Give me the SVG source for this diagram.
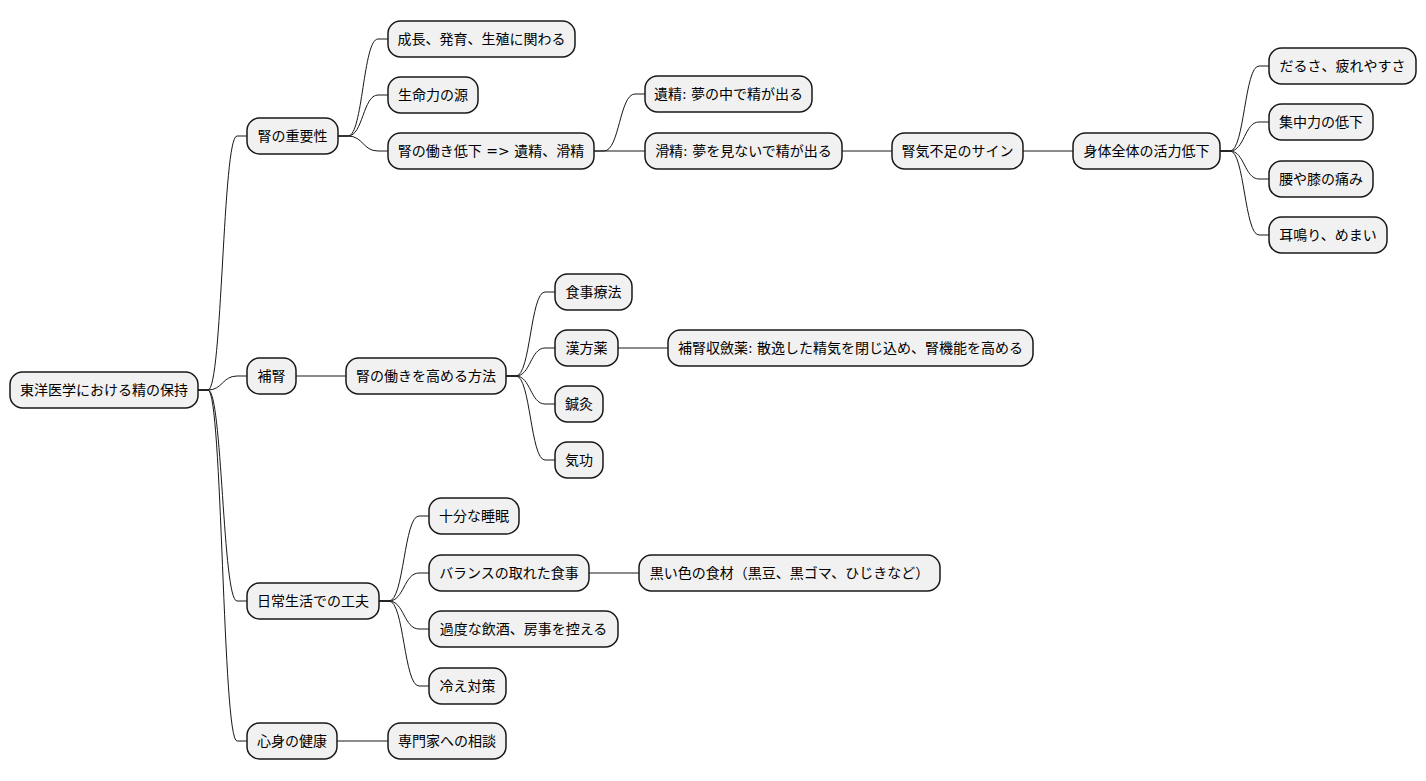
<svg xmlns="http://www.w3.org/2000/svg" width="1426" height="781" viewBox="0 0 1426 781">
<style>
.n rect{fill:#F1F1F1;stroke:#181818;stroke-width:1.5}
.n text{font-family:"DejaVu Sans","Noto Sans CJK JP",sans-serif;font-size:14px;fill:#000;text-anchor:middle}
#edges path{fill:none;stroke:#181818;stroke-width:1}
</style>
<rect width="1426" height="781" fill="#FFFFFF"/>
<g id="edges">
<path d="M198,390 L208,390 C222.5,390 222.5,136 237,136 L247,136"/>
<path d="M198,390 L208,390 C222.5,390 222.5,376 237,376 L247,376"/>
<path d="M198,390 L208,390 C222.5,390 222.5,601 237,601 L247,601"/>
<path d="M198,390 L208,390 C222.5,390 222.5,741 237,741 L247,741"/>
<path d="M338,136 L348,136 C363,136 363,39 378,39 L388,39"/>
<path d="M338,136 L348,136 C363,136 363,95 378,95 L388,95"/>
<path d="M338,136 L348,136 C363,136 363,151 378,151 L388,151"/>
<path d="M594,151 L604,151 C619.5,151 619.5,94 635,94 L645,94"/>
<path d="M594,151 L645,151"/>
<path d="M842,151 L892,151"/>
<path d="M1023,151 L1073,151"/>
<path d="M1220,151 L1230,151 C1244.5,151 1244.5,66 1259,66 L1269,66"/>
<path d="M1220,151 L1230,151 C1244.5,151 1244.5,122 1259,122 L1269,122"/>
<path d="M1220,151 L1230,151 C1244.5,151 1244.5,179 1259,179 L1269,179"/>
<path d="M1220,151 L1230,151 C1244.5,151 1244.5,235 1259,235 L1269,235"/>
<path d="M296,376 L346,376"/>
<path d="M506,376 L516,376 C530.5,376 530.5,292 545,292 L555,292"/>
<path d="M506,376 L516,376 C530.5,376 530.5,348 545,348 L555,348"/>
<path d="M506,376 L516,376 C530.5,376 530.5,404 545,404 L555,404"/>
<path d="M506,376 L516,376 C530.5,376 530.5,460 545,460 L555,460"/>
<path d="M618,348 L668,348"/>
<path d="M379,601 L389,601 C404,601 404,516 419,516 L429,516"/>
<path d="M379,601 L389,601 C404,601 404,573 419,573 L429,573"/>
<path d="M379,601 L389,601 C404,601 404,629 419,629 L429,629"/>
<path d="M379,601 L389,601 C404,601 404,686 419,686 L429,686"/>
<path d="M589,573 L639,573"/>
<path d="M337,741 L388,741"/>
</g>
<g id="root" class="n"><rect x="10" y="372" width="188" height="36" rx="12.5"/><text x="104" y="395">東洋医学における精の保持</text></g>
<g id="n1" class="n"><rect x="247" y="118" width="91" height="36" rx="12.5"/><text x="292.5" y="141">腎の重要性</text></g>
<g id="n1a" class="n"><rect x="388" y="21" width="187" height="36" rx="12.5"/><text x="481.5" y="44">成長、発育、生殖に関わる</text></g>
<g id="n1b" class="n"><rect x="388" y="77" width="90" height="36" rx="12.5"/><text x="433" y="100">生命力の源</text></g>
<g id="n1c" class="n"><rect x="388" y="133" width="206" height="36" rx="12.5"/><text x="491" y="156">腎の働き低下 =&gt; 遺精、滑精</text></g>
<g id="n1c1" class="n"><rect x="645" y="76" width="167" height="36" rx="12.5"/><text x="728.5" y="99">遺精: 夢の中で精が出る</text></g>
<g id="n1c2" class="n"><rect x="645" y="133" width="197" height="36" rx="12.5"/><text x="743.5" y="156">滑精: 夢を見ないで精が出る</text></g>
<g id="n1c3" class="n"><rect x="892" y="133" width="131" height="36" rx="12.5"/><text x="957.5" y="156">腎気不足のサイン</text></g>
<g id="n1c4" class="n"><rect x="1073" y="133" width="147" height="36" rx="12.5"/><text x="1146.5" y="156">身体全体の活力低下</text></g>
<g id="s1" class="n"><rect x="1269" y="48" width="147" height="36" rx="12.5"/><text x="1342.5" y="71">だるさ、疲れやすさ</text></g>
<g id="s2" class="n"><rect x="1269" y="104" width="104" height="36" rx="12.5"/><text x="1321" y="127">集中力の低下</text></g>
<g id="s3" class="n"><rect x="1269" y="161" width="104" height="36" rx="12.5"/><text x="1321" y="184">腰や膝の痛み</text></g>
<g id="s4" class="n"><rect x="1269" y="217" width="118" height="36" rx="12.5"/><text x="1328" y="240">耳鳴り、めまい</text></g>
<g id="n2" class="n"><rect x="247" y="358" width="49" height="36" rx="12.5"/><text x="271.5" y="381">補腎</text></g>
<g id="n2a" class="n"><rect x="346" y="358" width="160" height="36" rx="12.5"/><text x="426" y="381">腎の働きを高める方法</text></g>
<g id="m1" class="n"><rect x="555" y="274" width="77" height="36" rx="12.5"/><text x="593.5" y="297">食事療法</text></g>
<g id="m2" class="n"><rect x="555" y="330" width="63" height="36" rx="12.5"/><text x="586.5" y="353">漢方薬</text></g>
<g id="m2a" class="n"><rect x="668" y="330" width="365" height="36" rx="12.5"/><text x="850.5" y="353">補腎収斂薬: 散逸した精気を閉じ込め、腎機能を高める</text></g>
<g id="m3" class="n"><rect x="555" y="386" width="48" height="36" rx="12.5"/><text x="579" y="409">鍼灸</text></g>
<g id="m4" class="n"><rect x="555" y="442" width="48" height="36" rx="12.5"/><text x="579" y="465">気功</text></g>
<g id="n3" class="n"><rect x="247" y="583" width="132" height="36" rx="12.5"/><text x="313" y="606">日常生活での工夫</text></g>
<g id="d1" class="n"><rect x="429" y="498" width="90" height="36" rx="12.5"/><text x="474" y="521">十分な睡眠</text></g>
<g id="d2" class="n"><rect x="429" y="555" width="160" height="36" rx="12.5"/><text x="509" y="578">バランスの取れた食事</text></g>
<g id="d2a" class="n"><rect x="639" y="555" width="301" height="36" rx="12.5"/><text x="789.5" y="578">黒い色の食材（黒豆、黒ゴマ、ひじきなど）</text></g>
<g id="d3" class="n"><rect x="429" y="611" width="189" height="36" rx="12.5"/><text x="523.5" y="634">過度な飲酒、房事を控える</text></g>
<g id="d4" class="n"><rect x="429" y="668" width="77" height="36" rx="12.5"/><text x="467.5" y="691">冷え対策</text></g>
<g id="n4" class="n"><rect x="247" y="723" width="90" height="36" rx="12.5"/><text x="292" y="746">心身の健康</text></g>
<g id="n4a" class="n"><rect x="388" y="723" width="118" height="36" rx="12.5"/><text x="447" y="746">専門家への相談</text></g>
</svg>
